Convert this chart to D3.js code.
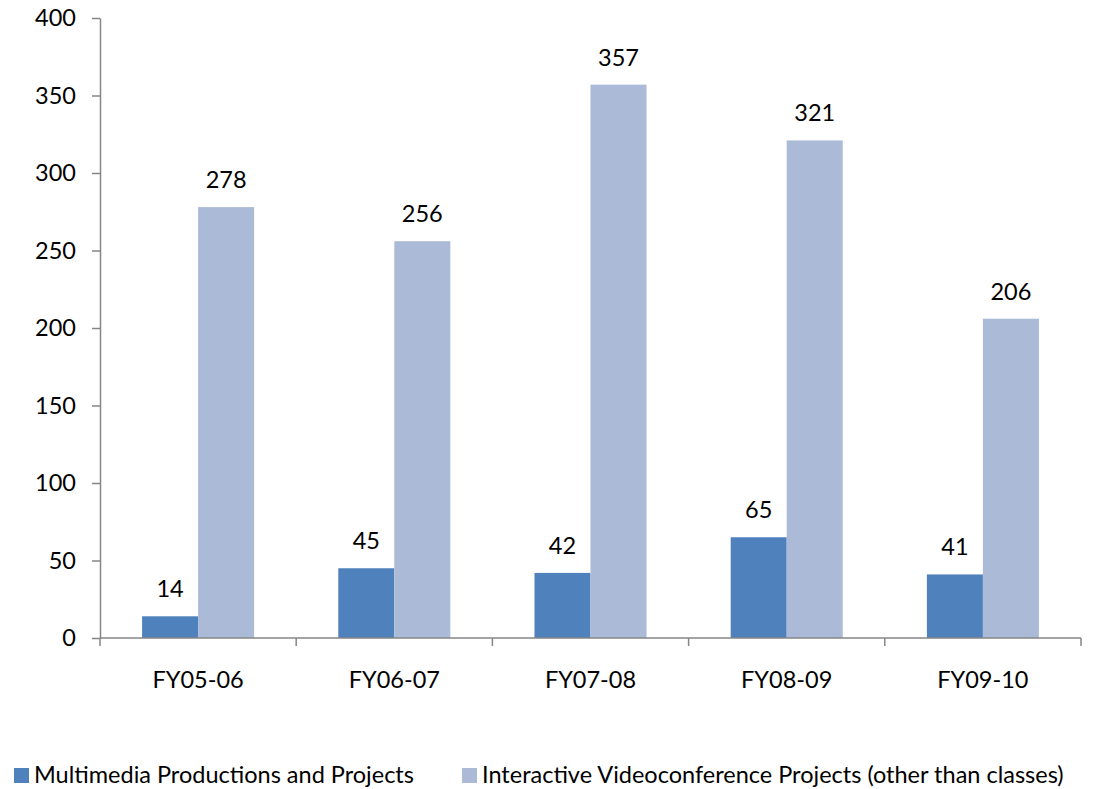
<!DOCTYPE html>
<html><head><meta charset="utf-8">
<script src="https://cdn.jsdelivr.net/npm/d3@7"></script>
<style>body{margin:0;background:#fff}svg{display:block}text{font-family:Lato,"Open Sans",sans-serif;fill:#000}</style>
</head><body>
<script>
const categories = ["FY05-06","FY06-07","FY07-08","FY08-09","FY09-10"];
const seriesNames = ["Multimedia Productions and Projects","Interactive Videoconference Projects (other than classes)"];
const multimedia = [14,45,42,65,41];
const videoconf = [278,256,357,321,206];
const yTicks = [0,50,100,150,200,250,300,350,400];
const colors = ["#4F81BD","#AABAD7"];

(function(){
const W=1104,H=789;
const svg=d3.select("body").append("svg").attr("width",W).attr("height",H);
const pL=100,pR=1081,pT=18,pB=638;
const x=d3.scaleBand().domain(categories).range([pL,pR]).padding(0);
const bw=x.bandwidth();
const x1=d3.scaleBand().domain([0,1]).range([bw*0.2145,bw*0.7855]).padding(0);
const y=d3.scaleLinear().domain([0,400]).range([pB,pT]);
const data=[multimedia,videoconf];
const fs=23.5;

data.forEach((vals,si)=>{
  svg.append("g").selectAll("rect").data(vals).join("rect")
    .attr("x",(d,i)=>x(categories[i])+x1(si))
    .attr("width",x1.bandwidth())
    .attr("y",d=>y(d)).attr("height",d=>y(0)-y(d))
    .attr("fill",colors[si]);
  svg.append("g").selectAll("text").data(vals).join("text")
    .attr("x",(d,i)=>x(categories[i])+x1(si)+x1.bandwidth()/2)
    .attr("y",d=>y(d)-19)
    .attr("text-anchor","middle").attr("font-size",fs).text(d=>d);
});

const ya=svg.append("g").attr("transform",`translate(${pL},0)`)
  .call(d3.axisLeft(y).tickValues(yTicks).tickSize(8).tickSizeOuter(0).tickPadding(16));
ya.selectAll("text").attr("font-size",fs).style("font-family","Lato,sans-serif");
ya.selectAll("line,path").attr("stroke","#868686").attr("stroke-width",1.5);

const xa=svg.append("g").attr("transform",`translate(0,${pB})`);
xa.append("line").attr("x1",pL).attr("x2",pR).attr("y1",0).attr("y2",0).attr("stroke","#868686").attr("stroke-width",1.5);
const bounds=categories.map(c=>x(c)).concat([pR]);
xa.selectAll("line.t").data(bounds).join("line").attr("class","t")
  .attr("x1",d=>d).attr("x2",d=>d).attr("y1",0).attr("y2",8).attr("stroke","#868686").attr("stroke-width",1.5);
xa.selectAll("text").data(categories).join("text")
  .attr("x",d=>x(d)+bw/2).attr("y",50).attr("text-anchor","middle").attr("font-size",fs).text(d=>d);

const lg=svg.append("g").attr("transform","translate(0,775)");
const items=[{x:14,tx:34},{x:462,tx:482}];
seriesNames.forEach((n,i)=>{
  lg.append("rect").attr("x",items[i].x).attr("y",-7).attr("width",15).attr("height",15).attr("fill",colors[i]);
  lg.append("text").attr("x",items[i].tx).attr("y",8).attr("font-size",fs).text(n);
});
})();
</script>
</body></html>
